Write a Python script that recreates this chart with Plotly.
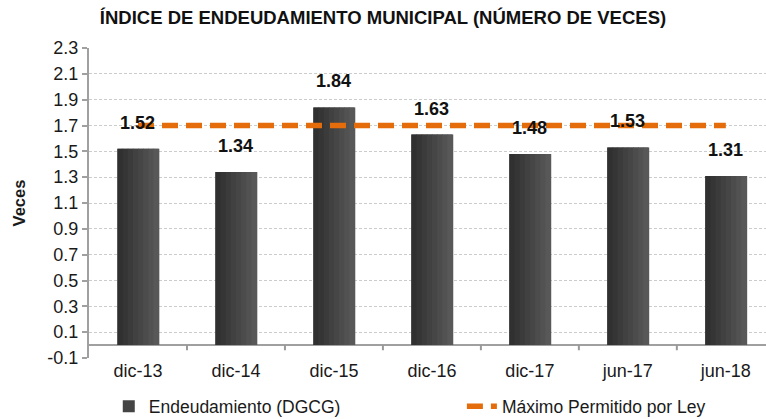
import plotly.graph_objects as go

# datos
periodos = ["dic-13", "dic-14", "dic-15", "dic-16", "dic-17", "jun-17", "jun-18"]
endeudamiento = [1.52, 1.34, 1.84, 1.63, 1.48, 1.53, 1.31]
maximo_ley = [1.7, 1.7, 1.7, 1.7, 1.7, 1.7, 1.7]
ticks_y = [-0.1, 0.1, 0.3, 0.5, 0.7, 0.9, 1.1, 1.3, 1.5, 1.7, 1.9, 2.1, 2.3]
etiquetas_y = ["-0.1", "0.1", "0.3", "0.5", "0.7", "0.9", "1.1", "1.3",
               "1.5", "1.7", "1.9", "2.1", "2.3"]

fig = go.Figure()

# barra base (leyenda)
fig.add_trace(go.Bar(
    x=periodos, y=endeudamiento, name="Endeudamiento (DGCG)",
    width=0.42, marker=dict(color="#444444", line=dict(width=0)),
    legend="legend",
))

# degradado horizontal de las barras con franjas
n = 8
ancho = 0.42 / n
for i in range(n):
    g = int(0x30 + (0x58 - 0x30) * i / (n - 1))
    fig.add_trace(go.Bar(
        x=periodos, y=endeudamiento, showlegend=False, hoverinfo="skip",
        width=ancho * 1.15, offset=-0.21 + i * ancho,
        marker=dict(color=f"rgb({g},{g},{g})", line=dict(width=0)),
    ))

# línea del máximo permitido
fig.add_trace(go.Scatter(
    x=periodos, y=maximo_ley, mode="lines", name="Máximo Permitido por Ley",
    line=dict(color="#E46C0A", width=5.5, dash="16px,8px"),
    legend="legend2",
))

# etiquetas de valores
for p, v in zip(periodos, endeudamiento):
    fig.add_annotation(x=p, y=v, text=f"<b>{v:.2f}</b>", showarrow=False,
                       yanchor="bottom", yshift=14,
                       font=dict(family="Arial", size=18, color="#111111"))

# marcas del eje x sobre la línea del cero
for i in range(len(periodos)):
    fig.add_shape(type="line", xref="x", yref="y",
                  x0=i + 0.5, x1=i + 0.5, y0=0, y1=-0.04,
                  line=dict(color="#999999", width=2))

leyenda = dict(orientation="h", xref="container", yref="container",
               y=0.03, yanchor="middle", font=dict(size=17.5),
               bgcolor="rgba(0,0,0,0)")

fig.update_layout(
    width=766, height=419,
    margin=dict(l=89, r=0, t=48, b=61),
    barmode="overlay",
    plot_bgcolor="white", paper_bgcolor="white",
    font=dict(family="Arial", color="#1a1a1a", size=17),
    title=dict(text="<b>ÍNDICE DE ENDEUDAMIENTO MUNICIPAL (NÚMERO DE VECES)</b>",
               x=0.5, xanchor="center", y=0.957, yanchor="middle",
               font=dict(size=18.5, color="#111111")),
    showlegend=True,
    legend=dict(leyenda, x=0.142),
    legend2=dict(leyenda, x=0.603),
    xaxis=dict(
        range=[-0.5, 6.41], showline=False, ticks="", showgrid=False,
        tickfont=dict(size=18),
    ),
    yaxis=dict(
        range=[-0.1, 2.3], tickvals=ticks_y, ticktext=etiquetas_y,
        showline=True, linecolor="#a0a0a0", linewidth=2,
        ticks="outside", ticklen=5, tickcolor="#a0a0a0", tickwidth=1.5,
        showgrid=True, gridcolor="#cccccc", griddash="3px,2px", gridwidth=1,
        zeroline=True, zerolinecolor="#a0a0a0", zerolinewidth=2,
        title=dict(text="<b>Veces</b>", font=dict(size=16.5), standoff=18),
        tickfont=dict(size=18),
    ),
)

# sin margen del body para que el gráfico quede en la esquina
fig.write_html("out.html", config={"displayModeBar": False},
               post_script="document.body.style.margin='0px';")
